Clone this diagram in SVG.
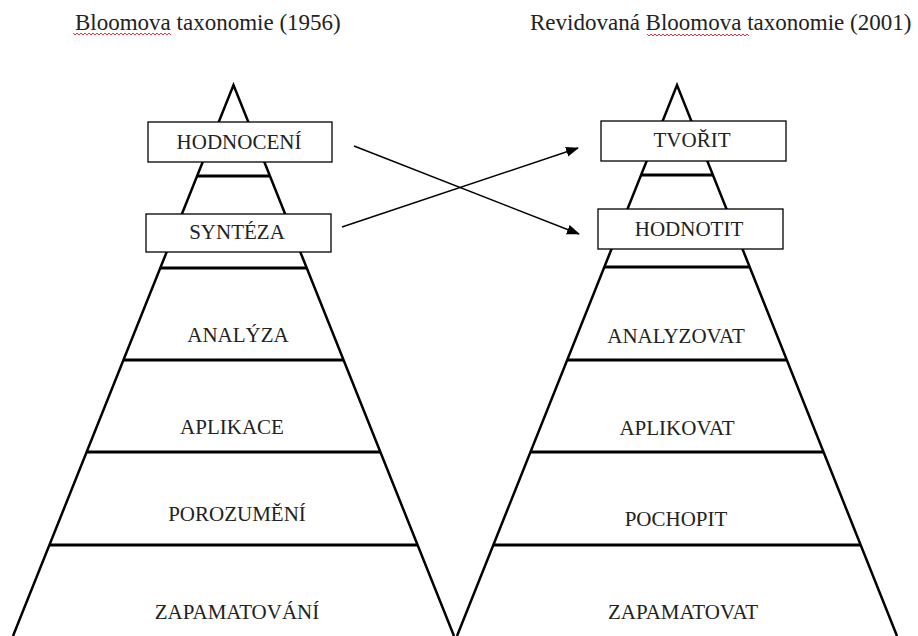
<svg xmlns="http://www.w3.org/2000/svg" width="918" height="636" viewBox="0 0 918 636">
<style>
.title{font-family:"Liberation Serif","Times New Roman",serif;font-size:23px;fill:#222}
.lbl{font-family:"Liberation Serif","Times New Roman",serif;font-size:21px;fill:#222;text-anchor:middle}
.edge{fill:none;stroke:#000;stroke-width:2.5;stroke-linejoin:miter}
.lvl{stroke:#000;stroke-width:3}
.box{fill:#fff;stroke:#000;stroke-width:1.3}
.arr{stroke:#000;stroke-width:1.5;fill:none}
.squig{fill:none;stroke:#e23a3a;stroke-width:1}
</style>
<defs>
<marker id="ah" markerUnits="userSpaceOnUse" markerWidth="14" markerHeight="12" refX="12" refY="5" orient="auto">
<path d="M0,0 L13,5 L0,10 Z" fill="#000"/>
</marker>
</defs>
<rect width="918" height="636" fill="#fff"/>

<g id="title-left">
<text class="title" x="75" y="30">Bloomova taxonomie (1956)</text>
<path class="squig" d="M73,33 l2,2 l2,-2 l2,2 l2,-2 l2,2 l2,-2 l2,2 l2,-2 l2,2 l2,-2 l2,2 l2,-2 l2,2 l2,-2 l2,2 l2,-2 l2,2 l2,-2 l2,2 l2,-2 l2,2 l2,-2 l2,2 l2,-2 l2,2 l2,-2 l2,2 l2,-2 l2,2 l2,-2 l2,2 l2,-2 l2,2 l2,-2 l2,2 l2,-2 l2,2 l2,-2 l2,2 l2,-2 l2,2 l2,-2 l2,2 l2,-2 l2,2 l2,-2 l2,2 l2,-2 l2,2"/>
</g>
<g id="title-right">
<text class="title" x="530" y="30">Revidovaná Bloomova taxonomie (2001)</text>
<path class="squig" d="M647,34 l2,2 l2,-2 l2,2 l2,-2 l2,2 l2,-2 l2,2 l2,-2 l2,2 l2,-2 l2,2 l2,-2 l2,2 l2,-2 l2,2 l2,-2 l2,2 l2,-2 l2,2 l2,-2 l2,2 l2,-2 l2,2 l2,-2 l2,2 l2,-2 l2,2 l2,-2 l2,2 l2,-2 l2,2 l2,-2 l2,2 l2,-2 l2,2 l2,-2 l2,2 l2,-2 l2,2 l2,-2 l2,2 l2,-2 l2,2 l2,-2 l2,2 l2,-2 l2,2 l2,-2 l2,2 l2,-2 l2,2"/>
</g>

<g id="pyramid-left">
<path class="edge" d="M13,636 L233.5,85 L454,636"/>
<line class="lvl" x1="197" y1="176" x2="270" y2="176"/>
<line class="lvl" x1="160" y1="268" x2="307" y2="268"/>
<line class="lvl" x1="123" y1="360" x2="344" y2="360"/>
<line class="lvl" x1="86" y1="452" x2="381" y2="452"/>
<line class="lvl" x1="49" y1="545" x2="418" y2="545"/>
</g>
<g id="pyramid-right">
<path class="edge" d="M457,636 L677,85 L897,636"/>
<line class="lvl" x1="641" y1="175" x2="713" y2="175"/>
<line class="lvl" x1="604" y1="267" x2="750" y2="267"/>
<line class="lvl" x1="567" y1="360" x2="787" y2="360"/>
<line class="lvl" x1="530" y1="452" x2="824" y2="452"/>
<line class="lvl" x1="493" y1="545" x2="861" y2="545"/>
</g>

<g id="n-hodnoceni">
<rect class="box" x="148" y="122" width="184" height="40"/>
<text class="lbl" x="239" y="149">HODNOCENÍ</text>
</g>
<g id="n-synteza">
<rect class="box" x="146" y="214" width="185" height="38"/>
<text class="lbl" x="237" y="239">SYNTÉZA</text>
</g>
<g id="n-analyza"><text class="lbl" x="238" y="342">ANALÝZA</text></g>
<g id="n-aplikace"><text class="lbl" x="232" y="434">APLIKACE</text></g>
<g id="n-porozumeni"><text class="lbl" x="237" y="521">POROZUMĚNÍ</text></g>
<g id="n-zapamatovani"><text class="lbl" x="237" y="619">ZAPAMATOVÁNÍ</text></g>

<g id="n-tvorit">
<rect class="box" x="601" y="121" width="185" height="40"/>
<text class="lbl" x="692" y="147">TVOŘIT</text>
</g>
<g id="n-hodnotit">
<rect class="box" x="598" y="209" width="185" height="40"/>
<text class="lbl" x="689" y="236">HODNOTIT</text>
</g>
<g id="n-analyzovat"><text class="lbl" x="676" y="343">ANALYZOVAT</text></g>
<g id="n-aplikovat"><text class="lbl" x="677" y="435">APLIKOVAT</text></g>
<g id="n-pochopit"><text class="lbl" x="676" y="526">POCHOPIT</text></g>
<g id="n-zapamatovat"><text class="lbl" x="683" y="619">ZAPAMATOVAT</text></g>

<g id="connectors">
<line class="arr" x1="354" y1="146" x2="579" y2="234" marker-end="url(#ah)"/>
<line class="arr" x1="342" y1="227" x2="578" y2="148" marker-end="url(#ah)"/>
</g>
</svg>
